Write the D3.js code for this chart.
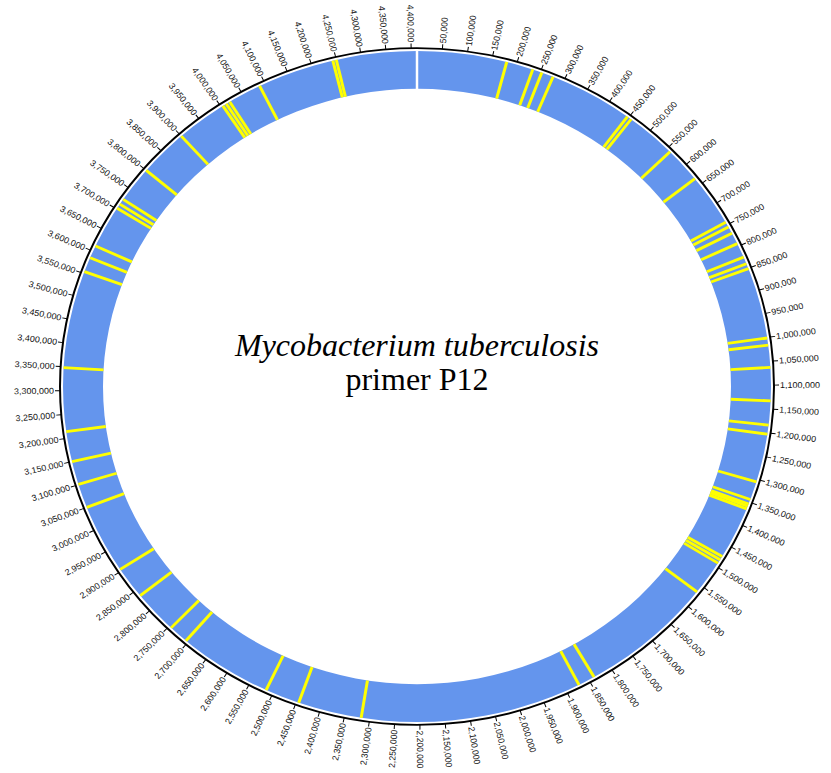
<!DOCTYPE html>
<html>
<head>
<meta charset="utf-8">
<script src="https://cdn.jsdelivr.net/npm/d3@7"></script>
<style>
  body { margin: 0; background: #fff; }
  svg { display: block; }
</style>
</head>
<body>
<svg id="chart"></svg>
<script>
// Genome and primer data
const genomeLength = 4411532;
const tickStep = 50000;
const tickMax = 4400000;
const titleLines = ["Mycobacterium tuberculosis", "primer P12"];

// primer P12 binding positions (bp)
const primerSites = [
  180000, 234000, 253000, 277000, 447000, 456000, 559000, 634000,
  744000, 755000, 770000, 794000, 825000, 840000, 851000,
  1001000, 1016000, 1063000, 1133000, 1184000, 1203000,
  1305000, 1344000, 1354000, 1359000, 1365000,
  1476000, 1484000, 1492000, 1565000, 1838000, 1872000,
  2317000, 2445000, 2515000, 2705000, 2745000, 2836000, 2904000,
  3050000, 3101000, 3150000, 3214000, 3348000,
  3554000, 3585000, 3612000, 3702000, 3712000, 3724000, 3800000, 3900000,
  4004000, 4012000, 4020000, 4088000, 4243000, 4250000
];

const width = 831, height = 773;
const cx = 417, cy = 386.5;
const squash = 338.4 / 357;   // the plot is slightly oval
const rAxis = 357, rOuter = 354, rInner = 314;

const svg = d3.select("#chart")
  .attr("width", width)
  .attr("height", height);

const g = svg.append("g")
  .attr("transform", "translate(" + cx + "," + cy + ") scale(1," + squash + ")");

const angle = d3.scaleLinear()
  .domain([0, genomeLength])
  .range([0, 2 * Math.PI]);

// blue ring
g.append("path")
  .attr("d", d3.arc()
    .innerRadius(rInner)
    .outerRadius(rOuter)
    .startAngle(0)
    .endAngle(2 * Math.PI)())
  .attr("fill", "#6495ed");

// white gap at the origin
g.append("line")
  .attr("x1", 0).attr("y1", -rInner + 1)
  .attr("x2", 0).attr("y2", -rAxis + 1)
  .attr("stroke", "#fff")
  .attr("stroke-width", 2.5);

// primer sites
g.selectAll(".site")
  .data(primerSites)
  .enter().append("line")
  .attr("class", "site")
  .attr("x1", d => rInner * Math.sin(angle(d)))
  .attr("y1", d => -rInner * Math.cos(angle(d)))
  .attr("x2", d => rOuter * Math.sin(angle(d)))
  .attr("y2", d => -rOuter * Math.cos(angle(d)))
  .attr("stroke", "#ffff00")
  .attr("stroke-width", 3);

// axis circle
g.append("circle")
  .attr("r", rAxis)
  .attr("fill", "none")
  .attr("stroke", "#000")
  .attr("stroke-width", 2);

// ticks and labels
const ticks = d3.range(tickStep, tickMax + 1, tickStep);
const fmt = d3.format(",");

const tick = g.selectAll(".tick")
  .data(ticks)
  .enter().append("g")
  .attr("class", "tick")
  .attr("transform", d => "rotate(" + (angle(d) * 180 / Math.PI - 90) + ") translate(" + rAxis + ",0)");

tick.append("line")
  .attr("x1", 0).attr("x2", 5)
  .attr("stroke", "#000")
  .attr("stroke-width", 1);

tick.append("text")
  .attr("x", 6)
  .attr("dy", "0.35em")
  .attr("transform", d => angle(d) > Math.PI ? "rotate(180) translate(-12,0)" : null)
  .attr("text-anchor", d => angle(d) > Math.PI ? "end" : "start")
  .style("font-family", "'Liberation Sans', Arial, sans-serif")
  .style("font-size", "9px")
  .attr("fill", "#111")
  .text(d => fmt(d));

// title in the middle
svg.append("text")
  .attr("x", cx)
  .attr("y", 356)
  .attr("text-anchor", "middle")
  .style("font-family", "'Liberation Serif', 'Times New Roman', serif")
  .style("font-style", "italic")
  .style("font-size", "32px")
  .text(titleLines[0]);

svg.append("text")
  .attr("x", cx)
  .attr("y", 390)
  .attr("text-anchor", "middle")
  .style("font-family", "'Liberation Serif', 'Times New Roman', serif")
  .style("font-size", "32px")
  .text(titleLines[1]);
</script>
</body>
</html>
